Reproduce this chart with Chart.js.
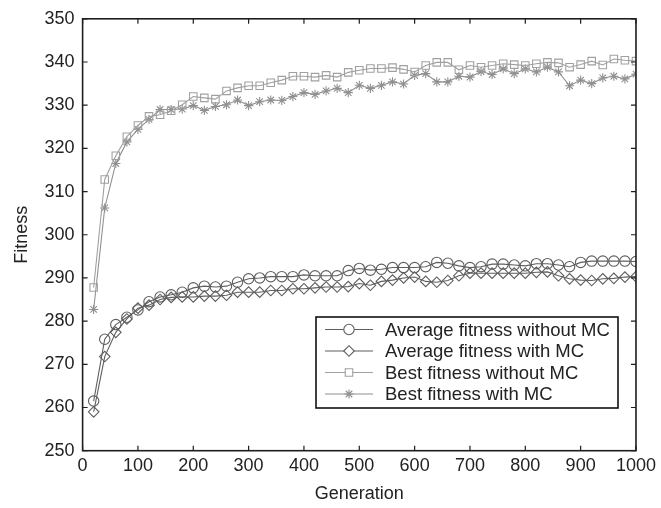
<!DOCTYPE html>
<html>
<head>
<meta charset="utf-8">
<script src="https://cdn.jsdelivr.net/npm/chart.js@4/dist/chart.umd.min.js"></script>
<style>
html,body{margin:0;padding:0;background:#fff;}
#wrap{position:relative;width:661px;height:508px;}
</style>
</head>
<body>
<div id="wrap"><canvas id="c" width="661" height="508"></canvas></div>
<script>
const generations = [20,40,60,80,100,120,140,160,180,200,220,240,260,280,300,320,340,360,380,400,420,440,460,480,500,520,540,560,580,600,620,640,660,680,700,720,740,760,780,800,820,840,860,880,900,920,940,960,980,1000];

const avgWithoutMC = [261.5,275.8,279.2,280.9,282.6,284.5,285.6,286.1,286.7,287.7,288.1,287.9,288.1,289.0,289.8,290.0,290.3,290.3,290.3,290.7,290.5,290.5,290.5,291.7,292.2,291.8,292.0,292.4,292.4,292.4,292.6,293.6,293.4,292.8,292.4,292.6,293.2,293.2,293.0,292.8,293.3,293.3,293.0,292.6,293.6,293.9,293.9,293.9,293.9,293.8];

const avgWithMC = [259.0,271.8,277.4,280.5,283.0,283.7,285.0,285.5,285.6,285.6,285.8,285.8,286.0,286.7,286.7,286.7,287.1,287.1,287.5,287.5,287.7,287.9,287.9,288.0,288.7,288.3,289.2,289.5,290.0,290.2,289.2,289.0,289.4,290.5,291.1,291.1,291.1,291.1,291.1,291.1,291.3,291.4,290.5,289.8,289.5,289.4,289.8,289.9,290.2,290.3];

const bestWithoutMC = [287.8,312.8,318.3,322.7,325.3,327.4,327.8,328.7,330.1,332.0,331.7,331.4,333.3,334.0,334.5,334.5,335.2,335.8,336.7,336.7,336.5,336.9,336.5,337.6,338.1,338.5,338.5,338.7,338.3,337.7,339.2,339.9,339.9,338.2,339.2,338.8,339.2,339.6,339.4,339.2,339.6,339.9,339.8,338.8,339.4,340.2,339.3,340.7,340.4,340.2];

const bestWithMC = [282.7,306.2,316.5,321.5,324.4,326.7,329.0,329.0,329.1,329.9,328.8,329.7,330.1,331.2,329.9,330.8,331.2,331.1,332.0,332.9,332.5,333.3,333.9,332.9,334.6,333.9,334.6,335.4,334.9,336.9,337.3,335.4,335.4,336.7,336.5,337.8,337.1,338.4,337.3,338.4,337.7,338.8,337.7,334.5,335.8,335.0,336.3,336.7,336.1,337.2];

const seriesNames = ["Average fitness without MC","Average fitness with MC","Best fitness without MC","Best fitness with MC"];
const xTicks = [0,100,200,300,400,500,600,700,800,900,1000];
const yTicks = [250,260,270,280,290,300,310,320,330,340,350];

const DARK = '#5e5e5e';
const LIGHT = '#a0a0a0';
const FONT = "'Liberation Sans', Arial, Helvetica, sans-serif";

function pts(ys){ return generations.map((g,i)=>({x:g,y:ys[i]})); }

const styles = [
  {color:DARK, point:'circle', r:5.2},
  {color:DARK, point:'rectRot', r:5.3},
  {color:LIGHT, point:'rect', r:5.3},
  {color:'#909090', point:'star', r:4.6}
];
const allSeries = [avgWithoutMC, avgWithMC, bestWithoutMC, bestWithMC];

const datasets = allSeries.map((s,i)=>({
  label: seriesNames[i],
  data: pts(s),
  borderColor: styles[i].color,
  borderWidth: 1.1,
  pointStyle: styles[i].point,
  pointRadius: styles[i].r,
  pointBorderColor: styles[i].color,
  pointBorderWidth: 1.1,
  pointBackgroundColor: 'rgba(255,255,255,0)',
  tension: 0,
  fill: false
}));

const framePlugin = {
  id: 'frame',
  afterDraw(chart){
    const ctx = chart.ctx;
    const a = chart.chartArea;
    const xs = chart.scales.x, ys = chart.scales.y;
    ctx.save();
    ctx.strokeStyle = '#1e1e1e';
    ctx.lineWidth = 1.6;
    ctx.strokeRect(a.left, a.top, a.right - a.left, a.bottom - a.top);
    ctx.lineWidth = 1.2;
    const tl = 5;
    ctx.beginPath();
    xTicks.forEach(v=>{
      const px = xs.getPixelForValue(v);
      ctx.moveTo(px, a.bottom); ctx.lineTo(px, a.bottom - tl);
      ctx.moveTo(px, a.top); ctx.lineTo(px, a.top + tl);
    });
    yTicks.forEach(v=>{
      const py = ys.getPixelForValue(v);
      ctx.moveTo(a.left, py); ctx.lineTo(a.left + tl, py);
      ctx.moveTo(a.right, py); ctx.lineTo(a.right - tl, py);
    });
    ctx.stroke();

    // legend
    const bx = 316, by = 317, bw = 302, bh = 91;
    ctx.fillStyle = '#fff';
    ctx.fillRect(bx, by, bw, bh);
    ctx.strokeStyle = '#111';
    ctx.lineWidth = 1.6;
    ctx.strokeRect(bx, by, bw, bh);
    const rowY = [329.5, 351, 372.5, 394];
    chart.data.datasets.forEach((ds,i)=>{
      const y = rowY[i];
      ctx.strokeStyle = ds.borderColor;
      ctx.lineWidth = 1.1;
      ctx.beginPath();
      ctx.moveTo(bx + 9, y); ctx.lineTo(bx + 57, y);
      ctx.stroke();
      ctx.fillStyle = '#fff';
      ctx.strokeStyle = ds.pointBorderColor;
      Chart.helpers.drawPoint(ctx, {pointStyle: ds.pointStyle, radius: ds.pointRadius, borderWidth: 1.1, rotation: 0}, bx + 33, y);
      ctx.fillStyle = '#222';
      ctx.font = '18.5px ' + FONT;
      ctx.textBaseline = 'middle';
      ctx.textAlign = 'left';
      ctx.fillText(ds.label, bx + 69, y + 1);
    });
    ctx.restore();
  }
};

new Chart(document.getElementById('c'), {
  type: 'line',
  data: { datasets },
  plugins: [framePlugin],
  options: {
    responsive: false,
    animation: false,
    devicePixelRatio: 1,
    layout: { padding: { left: 0, right: 21.4, top: 10.7, bottom: 0 } },
    plugins: { legend: { display: false }, tooltip: { enabled: false } },
    scales: {
      x: {
        type: 'linear', min: 0, max: 1000,
        afterBuildTicks(s){ s.ticks = xTicks.map(v=>({value:v})); },
        grid: { display: false, drawTicks: false },
        border: { display: false },
        ticks: { color: '#222', font: { size: 18, family: FONT }, padding: 5, maxRotation: 0, callback: v => String(v) },
        title: { display: true, text: 'Generation', color: '#222', font: { size: 18, family: FONT }, padding: { top: 0, bottom: 3 } },
        afterFit(s){ s.height = 57.3; }
      },
      y: {
        type: 'linear', min: 250, max: 350,
        afterBuildTicks(s){ s.ticks = yTicks.map(v=>({value:v})); },
        grid: { display: false, drawTicks: false },
        border: { display: false },
        ticks: { color: '#222', font: { size: 18, family: FONT }, padding: 8, callback: v => String(v) },
        title: { display: true, text: 'Fitness', color: '#222', font: { size: 18, family: FONT }, padding: { top: 11, bottom: 0 } },
        afterFit(s){ s.width = 82.6; }
      }
    }
  }
});
</script>
</body>
</html>
